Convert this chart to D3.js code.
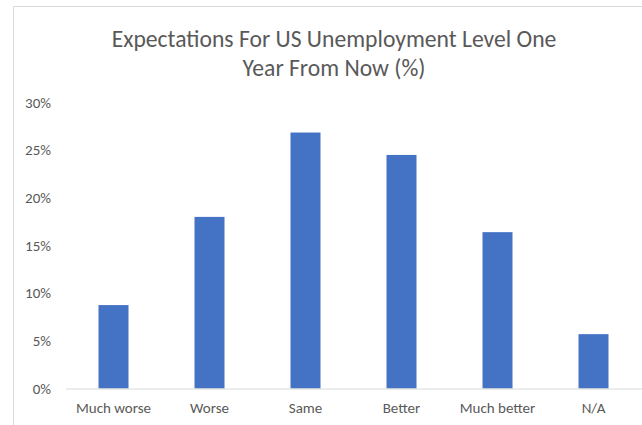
<!DOCTYPE html>
<html>
<head>
<meta charset="utf-8">
<script src="https://cdn.jsdelivr.net/npm/d3@7"></script>
<style>
  html, body { margin: 0; padding: 0; background: #fff; }
  svg { display: block; }
  text { font-family: Carlito, Calibri, Lato, sans-serif; }
</style>
</head>
<body>
<svg id="chart" width="642" height="425"></svg>
<script>
const categories = ["Much worse", "Worse", "Same", "Better", "Much better", "N/A"];
const values = [8.75, 18.0, 26.85, 24.5, 16.4, 5.7];
const yTicks = [0, 5, 10, 15, 20, 25, 30];
const titleLines = ["Expectations For US Unemployment Level One", "Year From Now (%)"];

const svg = d3.select("#chart");
const textColor = "#595959";
const fontFam = 'Carlito, Calibri, Lato, sans-serif';

// chart area border
svg.append("path")
  .attr("d", "M13.5,425 V6.5 H642")
  .attr("fill", "none")
  .attr("stroke", "#d9d9d9")
  .attr("stroke-width", 1);

const x = d3.scaleBand()
  .domain(categories)
  .range([65.5, 641.5])
  .paddingInner(0.6875)
  .paddingOuter(0.34375);

const y = d3.scaleLinear().domain([0, 30]).range([388.5, 102.5]);

// title
const title = svg.append("text")
  .attr("text-anchor", "middle")
  .attr("fill", textColor)
  .attr("font-weight", 300)
  .attr("font-size", 22);
titleLines.forEach((t, i) => {
  title.append("tspan").attr("x", 334).attr("y", 47 + i * 29).text(t);
});
// fit line 1 width to reference (~445px)
const firstLen = title.select("tspan").node().getComputedTextLength();
title.attr("font-size", 22 * 445 / firstLen);

// y axis (labels only)
const yAxis = d3.axisLeft(y).tickValues(yTicks).tickSize(0).tickPadding(0)
  .tickFormat(d => d + "%");
const gy = svg.append("g").attr("transform", "translate(51,0)").call(yAxis);
gy.select(".domain").remove();
gy.selectAll("text").attr("fill", textColor).attr("font-size", 15)
  .style("font-family", fontFam);

// bars
svg.append("g").selectAll("rect")
  .data(categories)
  .join("rect")
  .attr("x", d => x(d))
  .attr("width", x.bandwidth())
  .attr("y", (d, i) => y(values[i]))
  .attr("height", (d, i) => y(0) - y(values[i]))
  .attr("fill", "#4472c4");

// x axis
const xAxis = d3.axisBottom(x).tickSize(0).tickPadding(14);
const gx = svg.append("g").attr("transform", `translate(0,${y(0)})`).call(xAxis);
gx.select(".domain").attr("stroke", "#d9d9d9").attr("d", "M66,0.5H642");
gx.selectAll("text").attr("fill", textColor).attr("font-size", 15)
  .style("font-family", fontFam);
</script>
</body>
</html>
